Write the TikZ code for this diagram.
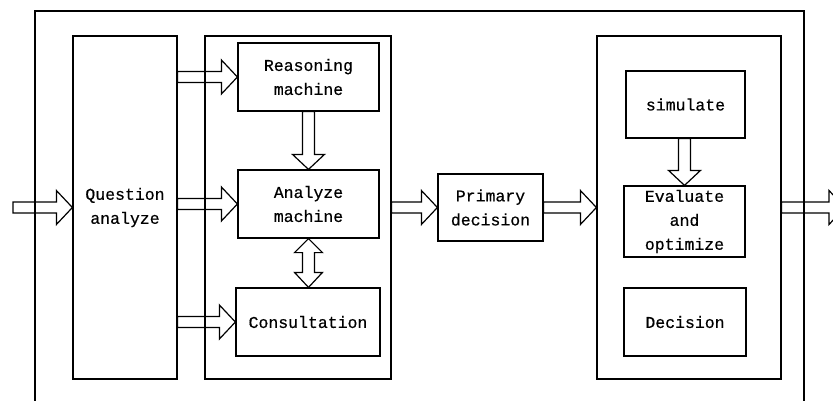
\documentclass[tikz,border=0pt]{standalone}
\usepackage{fontspec}
\setmonofont[FakeBold=0.5]{Liberation Mono}
\usetikzlibrary{calc}
\tikzset{
  box/.style={draw, line width=1.2pt, rectangle, inner sep=0pt, align=center,
    font=\ttfamily\fontsize{16.5}{24}\selectfont},
  arr/.style={draw, line width=1.2pt, line join=miter},
}
% horizontal hollow arrow: tail x from #1, tip #2
\newcommand\harrow[2]{\draw[arr] let \p1=(#1), \p2=(#2) in
  (\x1,\y2+5.5pt) -- (\x2-16pt,\y2+5.5pt) -- (\x2-16pt,\y2+17pt) -- (\x2,\y2)
  -- (\x2-16pt,\y2-17pt) -- (\x2-16pt,\y2-5.5pt) -- (\x1,\y2-5.5pt) -- cycle;}
% vertical hollow arrow pointing down: tail y from #1, tip #2
\newcommand\varrow[2]{\draw[arr] let \p1=(#1), \p2=(#2) in
  (\x2-6pt,\y1) -- (\x2-6pt,\y2+15pt) -- (\x2-16pt,\y2+15pt) -- (\x2,\y2)
  -- (\x2+16pt,\y2+15pt) -- (\x2+6pt,\y2+15pt) -- (\x2+6pt,\y1) -- cycle;}
% vertical double hollow arrow: top #1, bottom y from #2
\newcommand\dvarrow[2]{\draw[arr] let \p1=(#1), \p2=(#2) in
  (\x1,\y1) -- (\x1+14pt,\y1-14pt) -- (\x1+6pt,\y1-14pt) -- (\x1+6pt,\y2+15pt)
  -- (\x1+14pt,\y2+15pt) -- (\x1,\y2) -- (\x1-14pt,\y2+15pt) -- (\x1-6pt,\y2+15pt)
  -- (\x1-6pt,\y1-14pt) -- (\x1-14pt,\y1-14pt) -- cycle;}
\begin{document}
\begin{tikzpicture}[x=1pt, y=-1pt]
\useasboundingbox (0,0) rectangle (833,400);
\clip (0,0) rectangle (833,400);
\fill[white] (0,0) rectangle (833,400);

% outer frame (extends below the picture)
\node[box, minimum width=769, minimum height=430] (frame) at (419.5,226) {};

% panels
\node[box, minimum width=104, minimum height=343] (qa) at (125,207.5) {Question\\analyze};
\node[box, minimum width=186, minimum height=343] (p2) at (298,207.5) {};
\node[box, minimum width=184, minimum height=343] (p3) at (689,207.5) {};

% inner boxes
\node[box, minimum width=141, minimum height=68] (rm) at (308.5,77) {Reasoning\\machine};
\node[box, minimum width=141, minimum height=68] (am) at (308.5,204) {Analyze\\machine};
\node[box, minimum width=144, minimum height=68] (cons) at (308,322) {Consultation};
\node[box, minimum width=105, minimum height=67] (pd) at (490.5,207.5) {Primary\\decision};
\node[box, minimum width=119, minimum height=67] (sim) at (685.5,104.5) {simulate};
\node[box, minimum width=121, minimum height=71] (ev) at (684.5,221.5) {Evaluate\\and\\optimize};
\node[box, minimum width=122, minimum height=68] (dec) at (685,322) {Decision};

% free ends
\coordinate (in) at (13,207.5);
\coordinate (out) at (845,207.5);

% arrows
\harrow{in}{qa.west}
\harrow{qa.east}{rm.west}
\harrow{qa.east}{am.west}
\harrow{qa.east}{cons.west}
\varrow{rm.south}{am.north}
\dvarrow{am.south}{cons.north}
\harrow{p2.east}{pd.west}
\harrow{pd.east}{p3.west |- pd.east}
\harrow{p3.east}{out}
\varrow{sim.south}{ev.north}
\end{tikzpicture}
\end{document}
